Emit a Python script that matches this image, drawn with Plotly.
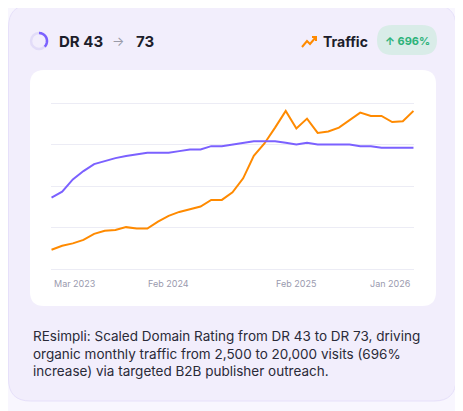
import math
import plotly.graph_objects as go

# page puts the plot 8px in from the top-left corner
OFF = 8
W, H = 463 - OFF, 411 - OFF

months = ["Mar 2023", "Apr 2023", "May 2023", "Jun 2023", "Jul 2023", "Aug 2023", "Sep 2023",
          "Oct 2023", "Nov 2023", "Dec 2023", "Jan 2024", "Feb 2024", "Mar 2024", "Apr 2024",
          "May 2024", "Jun 2024", "Jul 2024", "Aug 2024", "Sep 2024", "Oct 2024", "Nov 2024",
          "Dec 2024", "Jan 2025", "Feb 2025", "Mar 2025", "Apr 2025", "May 2025", "Jun 2025",
          "Jul 2025", "Aug 2025", "Sep 2025", "Oct 2025", "Nov 2025", "Dec 2025", "Jan 2026"]
traffic = [2500, 3000, 3300, 3750, 4500, 4900, 5000, 5350, 5180, 5180, 6050, 6770, 7270, 7600,
           7940, 8780, 8780, 9740, 11500, 14350, 15900, 17900, 20000, 17780, 19030, 17230, 17400,
           17900, 18900, 19790, 19370, 19370, 18600, 18700, 20000]
dr = [43, 46.6, 54, 59, 63.2, 65.2, 66.8, 68, 69, 70, 70, 70, 71, 72, 72, 74, 74, 75, 76, 77,
      77, 77, 76, 75, 76, 75, 75, 75, 75, 74, 74, 73, 73, 73, 73]
tick_labels = ["Mar 2023", "Feb 2024", "Feb 2025", "Jan 2026"]

PURPLE = "#7b61ff"
ORANGE = "#ff8a00"


def px_x(x):
    return (x - OFF) / W


def px_y(y):
    return 1 - (y - OFF) / H


def rounded(x0, y0, x1, y1, r):
    # rounded rect path in paper coords from pixel coords
    rx, ry = r / W, r / H
    a, b, c, d = px_x(x0), px_y(y1), px_x(x1), px_y(y0)
    return (f"M{a+rx},{b} L{c-rx},{b} Q{c},{b} {c},{b+ry} L{c},{d-ry} Q{c},{d} {c-rx},{d} "
            f"L{a+rx},{d} Q{a},{d} {a},{d-ry} L{a},{b+ry} Q{a},{b} {a+rx},{b} Z")


fig = go.Figure()
fig.add_trace(go.Scatter(x=months, y=dr, mode="lines", line=dict(color=PURPLE, width=2),
                         yaxis="y2", hoverinfo="skip"))
fig.add_trace(go.Scatter(x=months, y=traffic, mode="lines", line=dict(color=ORANGE, width=2),
                         hoverinfo="skip"))

shapes = [
    dict(type="path", xref="paper", yref="paper", path=rounded(8.5, 5, 456, 401, 22),
         fillcolor="#f2eefc", line=dict(color="#e6e0fa", width=1), layer="below"),
    dict(type="path", xref="paper", yref="paper", path=rounded(30, 70, 436, 306, 14),
         fillcolor="white", line=dict(width=0), layer="below"),
    dict(type="path", xref="paper", yref="paper", path=rounded(377, 25, 437, 55, 15),
         fillcolor="#d9ece8", line=dict(width=0), layer="below"),
    dict(type="circle", xref="paper", yref="paper", x0=px_x(31), x1=px_x(47), y0=px_y(49), y1=px_y(33),
         line=dict(color="#e2dcf8", width=2.5)),
]
# ring arc
pts = []
for k in range(0, 26):
    t = math.radians(90 - k * 5.4)
    pts.append((39 + 8 * math.cos(t), 41 - 8 * math.sin(t)))
arc = "M" + " L".join(f"{px_x(x)},{px_y(y)}" for x, y in pts)
shapes.append(dict(type="path", xref="paper", yref="paper", path=arc, line=dict(color=PURPLE, width=2.5)))
# trend icon
tr = [(302, 47), (307, 41), (310, 44), (316, 37)]
shapes.append(dict(type="path", xref="paper", yref="paper",
                   path="M" + " L".join(f"{px_x(x)},{px_y(y)}" for x, y in tr), line=dict(color=ORANGE, width=2)))
shapes.append(dict(type="path", xref="paper", yref="paper",
                   path=f"M{px_x(312)},{px_y(37)} L{px_x(316)},{px_y(37)} L{px_x(316)},{px_y(41)}",
                   line=dict(color=ORANGE, width=2)))

ann = [
    dict(x=px_x(57), y=px_y(41), text="<b>DR 43</b>", font=dict(size=15, color="#1d1d2b"), xanchor="left"),
    dict(x=px_x(118), y=px_y(41), text="→", font=dict(size=13, color="#9a9aa8"), xanchor="center"),
    dict(x=px_x(134), y=px_y(41), text="<b>73</b>", font=dict(size=15, color="#1d1d2b"), xanchor="left"),
    dict(x=px_x(321), y=px_y(41), text="<b>Traffic</b>", font=dict(size=14, color="#1d1d2b"), xanchor="left"),
    dict(x=px_x(407), y=px_y(41), text="<b>↑ 696%</b>", font=dict(size=11, color="#2db37a"), xanchor="center"),
    dict(x=px_x(31), y=px_y(353),
         text="REsimpli: Scaled Domain Rating from DR 43 to DR 73, driving<br>"
              "organic monthly traffic from 2,500 to 20,000 visits (696%<br>"
              "increase) via targeted B2B publisher outreach.",
         font=dict(size=13.5, color="#2a2a38"), xanchor="left", align="left"),
]
for a in ann:
    a.update(xref="paper", yref="paper", showarrow=False, yanchor="middle")

# x tick labels placed on the axis, edge ones kept inside the plot
anchors = ["left", "center", "center", "right"]
for lab, anc in zip(tick_labels, anchors):
    ann.append(dict(x=lab, xref="x", y=px_y(283), yref="paper", text=lab, showarrow=False,
                    xanchor=anc, yanchor="middle", font=dict(size=9, color="#9a9aae")))

fig.update_layout(
    width=W, height=H, margin=dict(l=0, r=0, t=0, b=0),
    paper_bgcolor="#f8f6fe", plot_bgcolor="rgba(0,0,0,0)", showlegend=False,
    font=dict(family="Inter, Lato, sans-serif"),
    shapes=shapes, annotations=ann,
    xaxis=dict(domain=[px_x(51), px_x(414)], showticklabels=False, showgrid=False,
               zeroline=False, range=[-0.05, 34.05], fixedrange=True),
    yaxis=dict(domain=[px_y(275), px_y(97)], range=[72 - 756, 21000 + 756], showticklabels=False,
               tickvals=[72 + i * 20928 / 4 for i in range(5)], gridcolor="#ececf5",
               gridwidth=1, zeroline=False),
    yaxis2=dict(overlaying="y", range=[-3.6, 103.6], showticklabels=False, showgrid=False, zeroline=False),
)

fig.write_html("out.html")
